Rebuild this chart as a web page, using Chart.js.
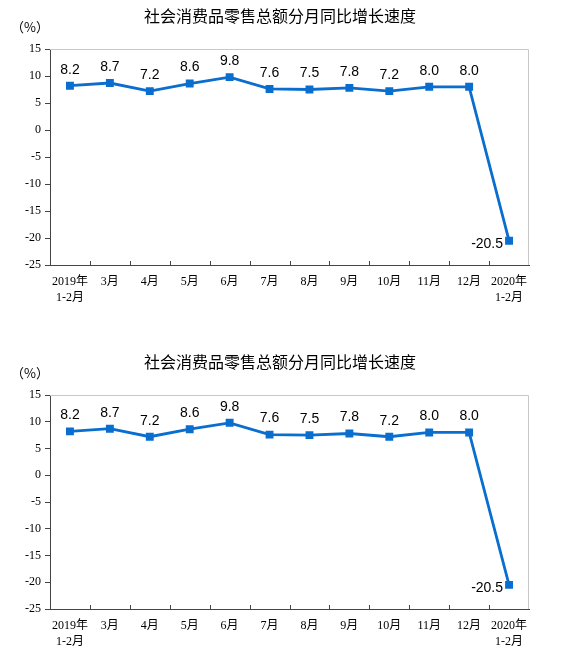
<!DOCTYPE html>
<html>
<head>
<meta charset="utf-8">
<script src="https://cdn.jsdelivr.net/npm/chart.js@4"></script>
<style>
  body { margin: 0; background: #fff; }
  canvas { position: absolute; left: 0; }
</style>
</head>
<body>
<canvas id="chart-top" width="564" height="320" style="top:0px"></canvas>
<canvas id="chart-bottom" width="564" height="318" style="top:346px"></canvas>
<script>
const title = '社会消费品零售总额分月同比增长速度';
const unit = '（%）';
const months = [['2019年', '1-2月'], '3月', '4月', '5月', '6月', '7月', '8月', '9月', '10月', '11月', '12月', ['2020年', '1-2月']];
const growth = [8.2, 8.7, 7.2, 8.6, 9.8, 7.6, 7.5, 7.8, 7.2, 8.0, 8.0, -20.5];
const yTicks = [15, 10, 5, 0, -5, -10, -15, -20, -25];

const lineColor = '#0a6ecf';
const axisColor = '#444';
const serif = "'Liberation Serif', 'Noto Sans CJK SC', serif";

// title, unit, gray frame on top/right, small tick marks on the x axis, value labels
const extras = {
    id: 'extras',
    beforeDatasetsDraw(chart) {
        const a = chart.chartArea;
        const ctx = chart.ctx;
        ctx.save();
        ctx.strokeStyle = '#c8c8c8';
        ctx.lineWidth = 1;
        ctx.beginPath();
        ctx.moveTo(a.left, a.top + 0.5);
        ctx.lineTo(a.right - 0.5, a.top + 0.5);
        ctx.lineTo(a.right - 0.5, a.bottom);
        ctx.stroke();

        const x = chart.scales.x;
        ctx.strokeStyle = axisColor;
        ctx.beginPath();
        for (let i = 1; i < months.length; i++) {
            const px = Math.round(x.getPixelForValue(i - 0.5)) + 0.5;
            ctx.moveTo(px, a.bottom);
            ctx.lineTo(px, a.bottom - 4);
        }
        ctx.stroke();

        ctx.fillStyle = '#000';
        ctx.textAlign = 'center';
        ctx.textBaseline = 'middle';
        ctx.font = "16px 'Noto Sans CJK SC', sans-serif";
        ctx.fillText(title, 280, a.top - 33);
        ctx.font = "13px 'Noto Sans CJK SC', " + serif;
        ctx.fillText(unit, a.left - 20, a.top - 22);
        ctx.restore();
    },
    afterDatasetsDraw(chart) {
        const ctx = chart.ctx;
        const pts = chart.getDatasetMeta(0).data;
        ctx.save();
        ctx.font = "14px 'Liberation Sans', Arial, sans-serif";
        ctx.fillStyle = '#000';
        ctx.textBaseline = 'middle';
        pts.forEach((p, i) => {
            const txt = growth[i].toFixed(1);
            if (i === pts.length - 1) {
                ctx.textAlign = 'right';
                ctx.fillText(txt, p.x - 6, p.y + 3);
            } else {
                ctx.textAlign = 'center';
                ctx.fillText(txt, p.x, p.y - 16);
            }
        });
        ctx.restore();
    }
};

function makeChart(id) {
    return new Chart(document.getElementById(id), {
        type: 'line',
        data: {
            labels: months,
            datasets: [{
                data: growth,
                borderColor: lineColor,
                backgroundColor: lineColor,
                borderWidth: 2.8,
                pointStyle: 'rect',
                pointRadius: 3.6,
                tension: 0
            }]
        },
        plugins: [extras],
        options: {
            responsive: false,
            animation: false,
            layout: { padding: { left: 0, right: 35, top: 49, bottom: 0 } },
            plugins: {
                legend: { display: false },
                tooltip: { enabled: false },
                title: { display: false }
            },
            scales: {
                x: {
                    offset: true,
                    grid: { display: false },
                    border: { color: axisColor, width: 1 },
                    ticks: {
                        color: '#000',
                        font: { family: serif, size: 12, lineHeight: 1.3 },
                        padding: 1,
                        maxRotation: 0,
                        autoSkip: false
                    },
                    afterFit: s => { s.height = 55; }
                },
                y: {
                    min: -25,
                    max: 15,
                    afterBuildTicks: s => { s.ticks = yTicks.map(v => ({ value: v })); },
                    grid: { drawOnChartArea: false, drawTicks: true, tickLength: 5, color: axisColor },
                    border: { color: axisColor, width: 1 },
                    ticks: {
                        color: '#000',
                        font: { family: serif, size: 12 },
                        padding: 4
                    },
                    afterFit: s => { s.width = 50; }
                }
            }
        }
    });
}

makeChart('chart-top');
makeChart('chart-bottom');
</script>
</body>
</html>
